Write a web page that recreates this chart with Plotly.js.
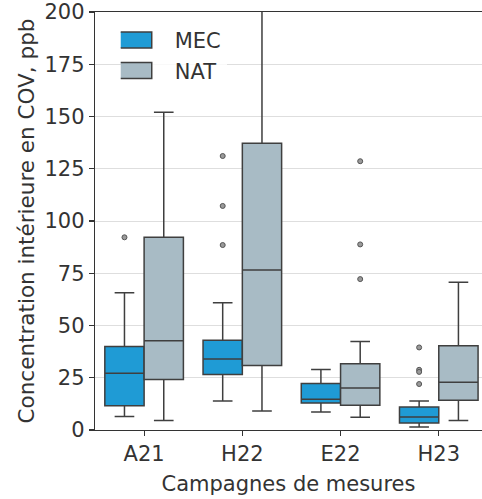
<!DOCTYPE html>
<html>
<head>
<meta charset="utf-8">
<script src="https://cdn.plot.ly/plotly-3.0.1.min.js"></script>
<style>html,body{margin:0;padding:0;background:#fff;}#chart{width:482px;height:499px;}</style>
</head>
<body>
<div id="chart"></div>
<script>
const categories = ['A21', 'H22', 'E22', 'H23'];
const seriesNames = ['MEC', 'NAT'];

// MEC statistics
const mecLow = [6.4, 13.9, 8.6, 1.4];
const mecQ1 = [11.6, 26.5, 12.9, 3.3];
const mecMedian = [27.1, 34.0, 14.7, 6.2];
const mecQ3 = [39.9, 42.9, 22.2, 11.0];
const mecHigh = [65.7, 60.9, 29.0, 13.9];
const mecOutlierCat = ['A21', 'H22', 'H22', 'H22', 'H23', 'H23', 'H23', 'H23'];
const mecOutlierVal = [92.2, 131.1, 107.2, 88.5, 39.5, 28.8, 27.8, 22.0];

// NAT statistics
const natLow = [4.5, 9.1, 6.1, 4.6];
const natQ1 = [24.2, 30.9, 11.8, 14.2];
const natMedian = [42.7, 76.6, 20.1, 22.8];
const natQ3 = [92.2, 137.2, 31.7, 40.3];
const natHigh = [152.0, 240.0, 42.4, 70.7];
const natOutlierCat = ['E22', 'E22', 'E22'];
const natOutlierVal = [128.6, 88.8, 72.2];

const yTicks = [0, 25, 50, 75, 100, 125, 150, 175, 200];

const colors = {MEC: '#1f9bd5', NAT: '#a8bbc5'};
const edge = '#3f3f3f';
const boxgap = 0.2;
const idx = c => categories.indexOf(c);
const pos = categories.map((c, i) => i);
const halfOffset = (1 - boxgap) / 4;

function boxTrace(name, lo, q1, med, q3, hi) {
  return {
    type: 'box', name: name, x: pos,
    lowerfence: lo, q1: q1, median: med, q3: q3, upperfence: hi,
    fillcolor: colors[name],
    line: {color: edge, width: 1.5},
    whiskerwidth: 0.5,
    boxpoints: false,
    hoverinfo: 'skip'
  };
}
function outlierTrace(name, cats, vals, sign) {
  return {
    type: 'scatter', mode: 'markers', showlegend: false, name: name + ' outliers',
    x: cats.map(c => idx(c) + sign * halfOffset), y: vals,
    marker: {symbol: 'circle', size: 5, color: '#9a9a9a', line: {color: '#555', width: 1}},
    hoverinfo: 'skip'
  };
}

const data = [
  boxTrace('MEC', mecLow, mecQ1, mecMedian, mecQ3, mecHigh),
  boxTrace('NAT', natLow, natQ1, natMedian, natQ3, natHigh),
  outlierTrace('MEC', mecOutlierCat, mecOutlierVal, -1),
  outlierTrace('NAT', natOutlierCat, natOutlierVal, 1)
];

const font = {family: 'DejaVu Sans', size: 21, color: '#333'};
const layout = {
  width: 482, height: 499,
  margin: {l: 95, r: 0, t: 12, b: 69},
  paper_bgcolor: '#fff', plot_bgcolor: '#fff',
  font: font,
  boxmode: 'group', boxgap: boxgap, boxgroupgap: 0,
  showlegend: true,
  legend: {
    x: 0.0665, y: 0.981, xanchor: 'left', yanchor: 'top',
    bgcolor: 'rgba(255,255,255,0.8)', borderwidth: 0,
    itemwidth: 44, font: font, tracegroupgap: 0
  },
  xaxis: {
    range: [-0.5, 3.44], tickmode: 'array', tickvals: pos, ticktext: categories,
    showgrid: false, zeroline: false,
    showline: true, mirror: true, linecolor: '#333', linewidth: 1.2,
    ticks: 'outside', ticklen: 5, tickcolor: '#333', tickwidth: 1.2,
    title: {text: 'Campagnes de mesures', font: font, standoff: 10}
  },
  yaxis: {
    range: [0, 200], tickmode: 'array', tickvals: yTicks,
    showgrid: true, gridcolor: '#dedede', gridwidth: 1, zeroline: false,
    showline: true, linecolor: '#333', linewidth: 1.2,
    ticks: 'outside', ticklen: 5, tickcolor: '#333', tickwidth: 1.2,
    title: {text: 'Concentration intérieure en COV, ppb', font: Object.assign({}, font, {size: 21.5}), standoff: 4}
  }
};

Plotly.newPlot('chart', data, layout, {displayModeBar: false, staticPlot: true}).then(gd => {
  // widen legend swatches to match the reference style
  gd.querySelectorAll('.legend .legendpoints path').forEach(p => {
    p.setAttribute('d', 'M-40,-8H4V8H-40Z');
  });
});
</script>
</body>
</html>
